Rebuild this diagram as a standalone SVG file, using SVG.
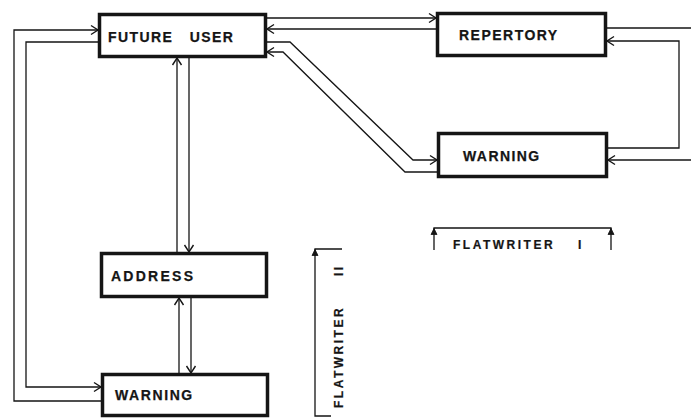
<svg xmlns="http://www.w3.org/2000/svg" width="691" height="418" viewBox="0 0 691 418">
<style>
.box{fill:#fff;stroke:#151515;stroke-width:3.5}
.lbl{font-family:"Liberation Sans",Arial,sans-serif;font-weight:bold;font-size:14px;fill:#151515;stroke:#151515;stroke-width:0.25}
.dim{font-family:"Liberation Sans",Arial,sans-serif;font-weight:bold;font-size:12px;fill:#151515;letter-spacing:2.5px;stroke:#151515;stroke-width:0.2}
.ln{fill:none;stroke:#151515;stroke-width:1.3}
.arr{marker-end:url(#ah)}
</style>
<defs>
<marker id="ah" markerUnits="userSpaceOnUse" markerWidth="12" markerHeight="12" viewBox="-8 -6 10 12" refX="0" refY="0" orient="auto">
<path d="M-7,-4.5 L0,0 L-7,4.5" fill="none" stroke="#151515" stroke-width="1.4"/>
</marker>
<marker id="dh" markerUnits="userSpaceOnUse" markerWidth="12" markerHeight="12" viewBox="-8 -6 10 12" refX="0" refY="0" orient="auto">
<path d="M-6,-3 L0,0 L-6,3 Z" fill="#151515" stroke="#151515" stroke-width="0.8"/>
</marker>
</defs>
<rect width="691" height="418" fill="#fff"/>
<g id="connectors">
<path class="ln arr" d="M267,18 H436"/>
<path class="ln arr" d="M436,29 H267"/>
<path class="ln arr" d="M267,42 H290 L413,160 H437"/>
<path class="ln arr" d="M437,172 H405 L283,52 H267"/>
<path class="ln" d="M607,28 H691"/>
<path class="ln arr" d="M691,160 H608"/>
<path class="ln arr" d="M608,148 H679 V41 H607"/>
<path class="ln arr" d="M101,401 H14 V30 H98"/>
<path class="ln arr" d="M98,42 H26 V387 H101"/>
<path class="ln arr" d="M177,252 V58"/>
<path class="ln arr" d="M189,58 V252"/>
<path class="ln arr" d="M179,373 V298"/>
<path class="ln arr" d="M191,298 V373"/>
</g>
<g id="future-user">
<rect class="box" x="99.5" y="14.5" width="166" height="42"/>
<text class="lbl" x="108" y="42" style="letter-spacing:1.4px;word-spacing:11.3px">FUTURE USER</text>
</g>
<g id="repertory">
<rect class="box" x="437.5" y="13.5" width="168" height="42"/>
<text class="lbl" x="459" y="40" style="letter-spacing:1.48px">REPERTORY</text>
</g>
<g id="warning-1">
<rect class="box" x="438.5" y="133.5" width="168" height="43"/>
<text class="lbl" x="463" y="161" style="letter-spacing:1.43px">WARNING</text>
</g>
<g id="address">
<rect class="box" x="101.5" y="253.5" width="165" height="43"/>
<text class="lbl" x="111" y="281" style="letter-spacing:2.26px">ADDRESS</text>
</g>
<g id="warning-2">
<rect class="box" x="102.5" y="374.5" width="165" height="41"/>
<text class="lbl" x="115" y="400" style="letter-spacing:1.6px">WARNING</text>
</g>
<g id="flatwriter-1">
<path class="ln" d="M434,250 V228 H611 V250"/>
<path class="ln" d="M434,234 V228.5" marker-end="url(#dh)"/>
<path class="ln" d="M611,234 V228.5" marker-end="url(#dh)"/>
<text class="dim" x="453" y="249">FLATWRITER <tspan dx="17">I</tspan></text>
</g>
<g id="flatwriter-2">
<path class="ln" d="M342,249 H315 V416 H331"/>
<path class="ln" d="M315,256 V249.5" marker-end="url(#dh)"/>
<text class="dim" x="343" y="408" transform="rotate(-90 343 408)">FLATWRITER <tspan dx="24">II</tspan></text>
</g>
</svg>
